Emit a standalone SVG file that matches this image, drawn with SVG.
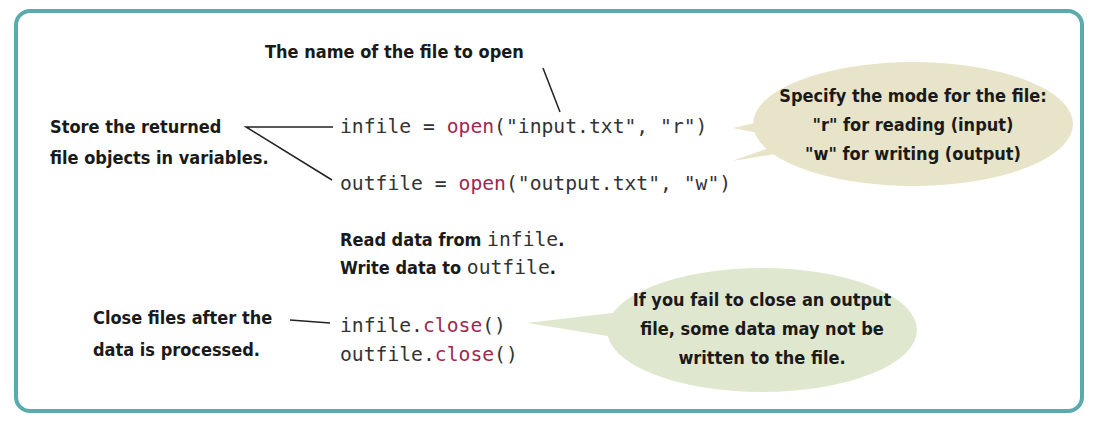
<svg xmlns="http://www.w3.org/2000/svg" width="1096" height="428" viewBox="0 0 1096 428">
<style>
.lbl{font-family:"DejaVu Sans Condensed","Liberation Sans Narrow","Liberation Sans",sans-serif;font-weight:bold;font-size:18px;fill:#1a1a1a}
.code{font-family:"DejaVu Sans Mono","Liberation Mono",monospace;font-size:19.7px;fill:#333}
.kw{fill:#a0284e}
.ln{stroke:#222;stroke-width:1.5;fill:none}
</style>
<rect x="16" y="11" width="1066" height="400" rx="14" fill="#fff" stroke="#5aabae" stroke-width="4"/>
<g id="connectors">
<line class="ln" x1="543" y1="68" x2="560" y2="112"/>
<polyline class="ln" points="333,127 246,127 332,180"/>
<line class="ln" x1="290" y1="320" x2="330" y2="323"/>
</g>
<g id="code">
<text class="code" x="340" y="133">infile = <tspan class="kw">open</tspan>("input.txt", "r")</text>
<text class="code" x="340" y="190">outfile = <tspan class="kw">open</tspan>("output.txt", "w")</text>
<text class="lbl" x="340" y="246">Read data from <tspan class="code" style="font-weight:normal">infile</tspan>.</text>
<text class="lbl" x="340" y="274">Write data to <tspan class="code" style="font-weight:normal">outfile</tspan>.</text>
<text class="code" x="340" y="332">infile.<tspan class="kw">close</tspan>()</text>
<text class="code" x="340" y="361">outfile.<tspan class="kw">close</tspan>()</text>
</g>
<g id="name-label"><text class="lbl" x="265" y="58">The name of the file to open</text></g>
<g id="store-label">
<text class="lbl" x="50" y="133">Store the returned</text>
<text class="lbl" x="50" y="164">file objects in variables.</text>
</g>
<g id="close-label">
<text class="lbl" x="93" y="324">Close files after the</text>
<text class="lbl" x="93" y="356">data is processed.</text>
</g>
<g id="mode-bubble">
<path d="M790,115 L733,128 L792,140 L732,161 L800,150 Z" fill="#e8e4c9"/>
<ellipse cx="913" cy="124" rx="160" ry="62" fill="#e8e4c9"/>
<text class="lbl" x="913" y="102" text-anchor="middle">Specify the mode for the file:</text>
<text class="lbl" x="913" y="131" text-anchor="middle">"r" for reading (input)</text>
<text class="lbl" x="913" y="160" text-anchor="middle">"w" for writing (output)</text>
</g>
<g id="close-bubble">
<path d="M620,312 L527,323 L620,338 Z" fill="#dfe8cf"/>
<ellipse cx="762" cy="330" rx="155" ry="62" fill="#dfe8cf"/>
<text class="lbl" x="762" y="306" text-anchor="middle">If you fail to close an output</text>
<text class="lbl" x="762" y="335" text-anchor="middle">file, some data may not be</text>
<text class="lbl" x="762" y="364" text-anchor="middle">written to the file.</text>
</g>
</svg>
